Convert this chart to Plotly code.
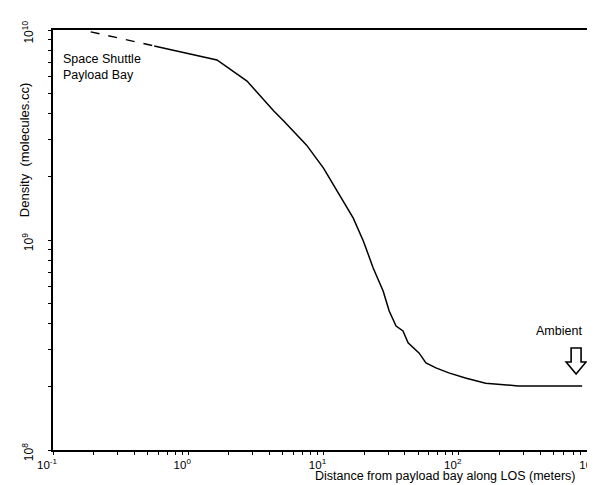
import plotly.graph_objects as go

# Extrapolated (dashed) part near the payload bay
dashed_x = [0.19, 0.56]
dashed_y = [9.8e9, 8.4e9]

# Measured / modelled density profile (solid)
solid_x = [0.56, 1.63, 2.72, 4.29, 5.08, 7.5, 10.0, 13.1, 16.6, 19.7, 23.3,
           27.6, 30.6, 34.4, 38.7, 42.2, 50.8, 57.2, 67.8, 84.4, 112, 158,
           276, 817]
solid_y = [8.4e9, 7.2e9, 5.71e9, 4.11e9, 3.69e9, 2.83e9, 2.2e9, 1.64e9,
           1.27e9, 9.9e8, 7.36e8, 5.72e8, 4.59e8, 3.89e8, 3.69e8, 3.24e8,
           2.90e8, 2.60e8, 2.46e8, 2.33e8, 2.20e8, 2.08e8, 2.02e8, 2.02e8]

x_major = [0.1, 1, 10, 100, 1000]
x_major_text = ["10<sup>-1</sup>", "10<sup>0</sup>", "10<sup>1</sup>",
                "10<sup>2</sup>", "10<sup>3</sup>"]
y_major = [1e8, 1e9, 1e10]
y_major_text = ["10<sup>8</sup>", "10<sup>9</sup>", "10<sup>10</sup>"]
x_minor = [m * d for d in (0.1, 1, 10, 100) for m in range(2, 10)]
y_minor = [m * d for d in (1e8, 1e9) for m in range(2, 10)]

x_tickvals = x_major + x_minor
x_ticktext = x_major_text + [""] * len(x_minor)
y_tickvals = y_major + y_minor
y_ticktext = y_major_text + [""] * len(y_minor)

FONT = "Liberation Sans, Arial, Helvetica, sans-serif"

W, H = 595, 485
ML, MR, MT, MB = 45, 6, 22, 43
PW, PH = W - ML - MR, H - MT - MB


def px(xp):
    return (xp - ML) / PW


def py(yp):
    return (H - MB - yp) / PH


fig = go.Figure()
fig.add_trace(go.Scatter(x=dashed_x, y=dashed_y, mode="lines",
                         line=dict(color="black", width=1.4, dash="dash"),
                         showlegend=False, hoverinfo="skip"))
fig.add_trace(go.Scatter(x=solid_x, y=solid_y, mode="lines",
                         line=dict(color="black", width=1.5),
                         showlegend=False, hoverinfo="skip"))

fig.update_layout(
    width=W, height=H,
    margin=dict(l=ML, r=MR, t=MT, b=MB),
    paper_bgcolor="white", plot_bgcolor="white",
    font=dict(family=FONT, size=12, color="black"),
    xaxis=dict(type="log", range=[-1, 3], showgrid=False, zeroline=False,
               showline=True, linecolor="black", linewidth=2, mirror=True,
               ticks="outside", ticklen=3, tickwidth=1.2, tickcolor="black",
               tickmode="array", tickvals=x_tickvals, ticktext=x_ticktext,
               tickfont=dict(size=11.5), ticklabelshift=-6,
               ticklabelstandoff=0),
    yaxis=dict(type="log", range=[8, 10], showgrid=False, zeroline=False,
               showline=True, linecolor="black", linewidth=2, mirror=True,
               ticks="outside", ticklen=3, tickwidth=1.2, tickcolor="black",
               tickmode="array", tickvals=y_tickvals, ticktext=y_ticktext,
               tickangle=-90, tickfont=dict(size=12), ticklabelstandoff=10,
               ticklabelshift=4),
)

fig.add_annotation(text="Space Shuttle<br>Payload Bay", xref="paper", yref="paper",
                   x=px(53), y=py(42), xanchor="left", yanchor="top", showarrow=False,
                   align="left", font=dict(size=12.5))
fig.add_annotation(text="Ambient", xref="paper", yref="paper",
                   x=px(579), y=py(332), xanchor="right", yanchor="bottom",
                   showarrow=False, font=dict(size=12.5))

# hollow "ambient" arrow
cx = 571
arrow_pts = [(cx - 5, 340), (cx + 5, 340), (cx + 5, 354), (cx + 10, 354),
             (cx, 366), (cx - 10, 354), (cx - 5, 354)]
path = "M " + " L ".join(f"{px(a):.4f},{py(b):.4f}" for a, b in arrow_pts) + " Z"
fig.add_shape(type="path", path=path, xref="paper", yref="paper",
              line=dict(color="black", width=1.6), fillcolor="white")

fig.add_annotation(text="Distance from payload bay along LOS (meters)",
                   xref="paper", yref="paper", x=px(572), y=py(476.5),
                   xanchor="right", yanchor="bottom", showarrow=False,
                   borderpad=0, font=dict(size=12.5))
fig.add_annotation(text="Density  (molecules.cc)", xref="paper", yref="paper",
                   x=px(16), y=py(142), xanchor="center", yanchor="middle",
                   textangle=-90, showarrow=False, font=dict(size=13))

fig.write_html("out.html")
